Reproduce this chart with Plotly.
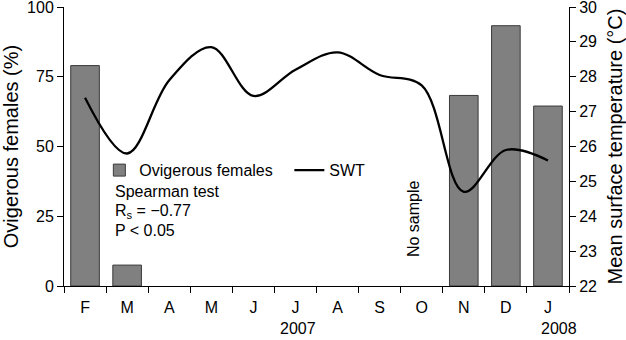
import plotly.graph_objects as go

months = ["F", "M", "A", "M", "J", "J", "A", "S", "O", "N", "D", "J"]
ovigerous = [79, 7.5, None, None, None, None, None, None, None, 68.3, 93.3, 64.5]
swt = [27.4, 25.8, 27.9, 28.85, 27.45, 28.2, 28.7, 28.05, 27.75, 24.7, 25.9, 25.6]
years = ["2007", "2008"]
year_pos = [5.06, 11.26]

xs = list(range(len(months)))
bounds = [i - 0.5 for i in range(len(months) + 1)]
FONT = "Liberation Sans, Arial, Helvetica, sans-serif"

fig = go.Figure()
fig.add_trace(go.Bar(
    x=xs, y=ovigerous, name="Ovigerous females", width=0.68,
    marker=dict(color="#808080", line=dict(color="#3a3a3a", width=1)),
    yaxis="y",
))
fig.add_trace(go.Scatter(
    x=xs, y=swt, name="SWT", mode="lines",
    line=dict(color="black", width=2.3, shape="spline", smoothing=1.0),
    yaxis="y2",
))

fig.update_layout(
    width=626, height=340,
    margin=dict(l=64, r=57, t=7, b=54, autoexpand=False),
    paper_bgcolor="white", plot_bgcolor="white",
    font=dict(family=FONT, size=16, color="black"),
    showlegend=True,
    legend=dict(orientation="h", x=0.07, y=0.415, xanchor="left", yanchor="middle",
                bgcolor="rgba(0,0,0,0)", font=dict(size=16), itemwidth=30,
                entrywidth=145, entrywidthmode="pixels"),
    xaxis=dict(range=[-0.5, 11.5], tickvals=xs, ticktext=months, ticks="",
               showline=True, linecolor="black", linewidth=1, showgrid=False, zeroline=False,
               ticklabelstandoff=7, automargin=False,
               minor=dict(tickvals=bounds, ticks="outside", ticklen=6, tickwidth=1,
                          tickcolor="black", showgrid=False)),
    yaxis=dict(range=[0, 100], tickvals=[0, 25, 50, 75, 100], ticks="outside", ticklen=6,
               tickcolor="black", showline=True, linecolor="black", linewidth=1,
               showgrid=False, zeroline=False, ticklabeloverflow="allow", automargin=False,
               title=dict(text="Ovigerous females (%)", font=dict(size=20), standoff=16)),
    yaxis2=dict(range=[22, 30], dtick=1, tick0=22, overlaying="y", side="right",
                ticks="outside", ticklen=6, tickcolor="black", showline=True,
                linecolor="black", linewidth=1, showgrid=False, zeroline=False,
                ticklabeloverflow="allow", automargin=False,
                title=dict(text="Mean surface temperature (°C)", font=dict(size=20), standoff=14)),
    bargap=0.3,
)

for yr, xp in zip(years, year_pos):
    fig.add_annotation(x=xp, y=-0.154, xref="x", yref="paper", text=yr, showarrow=False,
                       font=dict(size=16), xanchor="center", yanchor="middle")

fig.add_annotation(x=7.79, y=24.3, xref="x", yref="y", text="No sample", textangle=-90,
                   showarrow=False, font=dict(size=16))

stats = ["Spearman test", "R<sub>s</sub> = \u22120.77", "P < 0.05"]
stat_y = [192, 212, 230]
for t, py in zip(stats, stat_y):
    fig.add_annotation(x=(113 - 64) / 505, y=(286 - py) / 279, xref="paper", yref="paper",
                       text=t, showarrow=False, xanchor="left", yanchor="middle",
                       font=dict(size=16))

fig.write_html("out.html")
